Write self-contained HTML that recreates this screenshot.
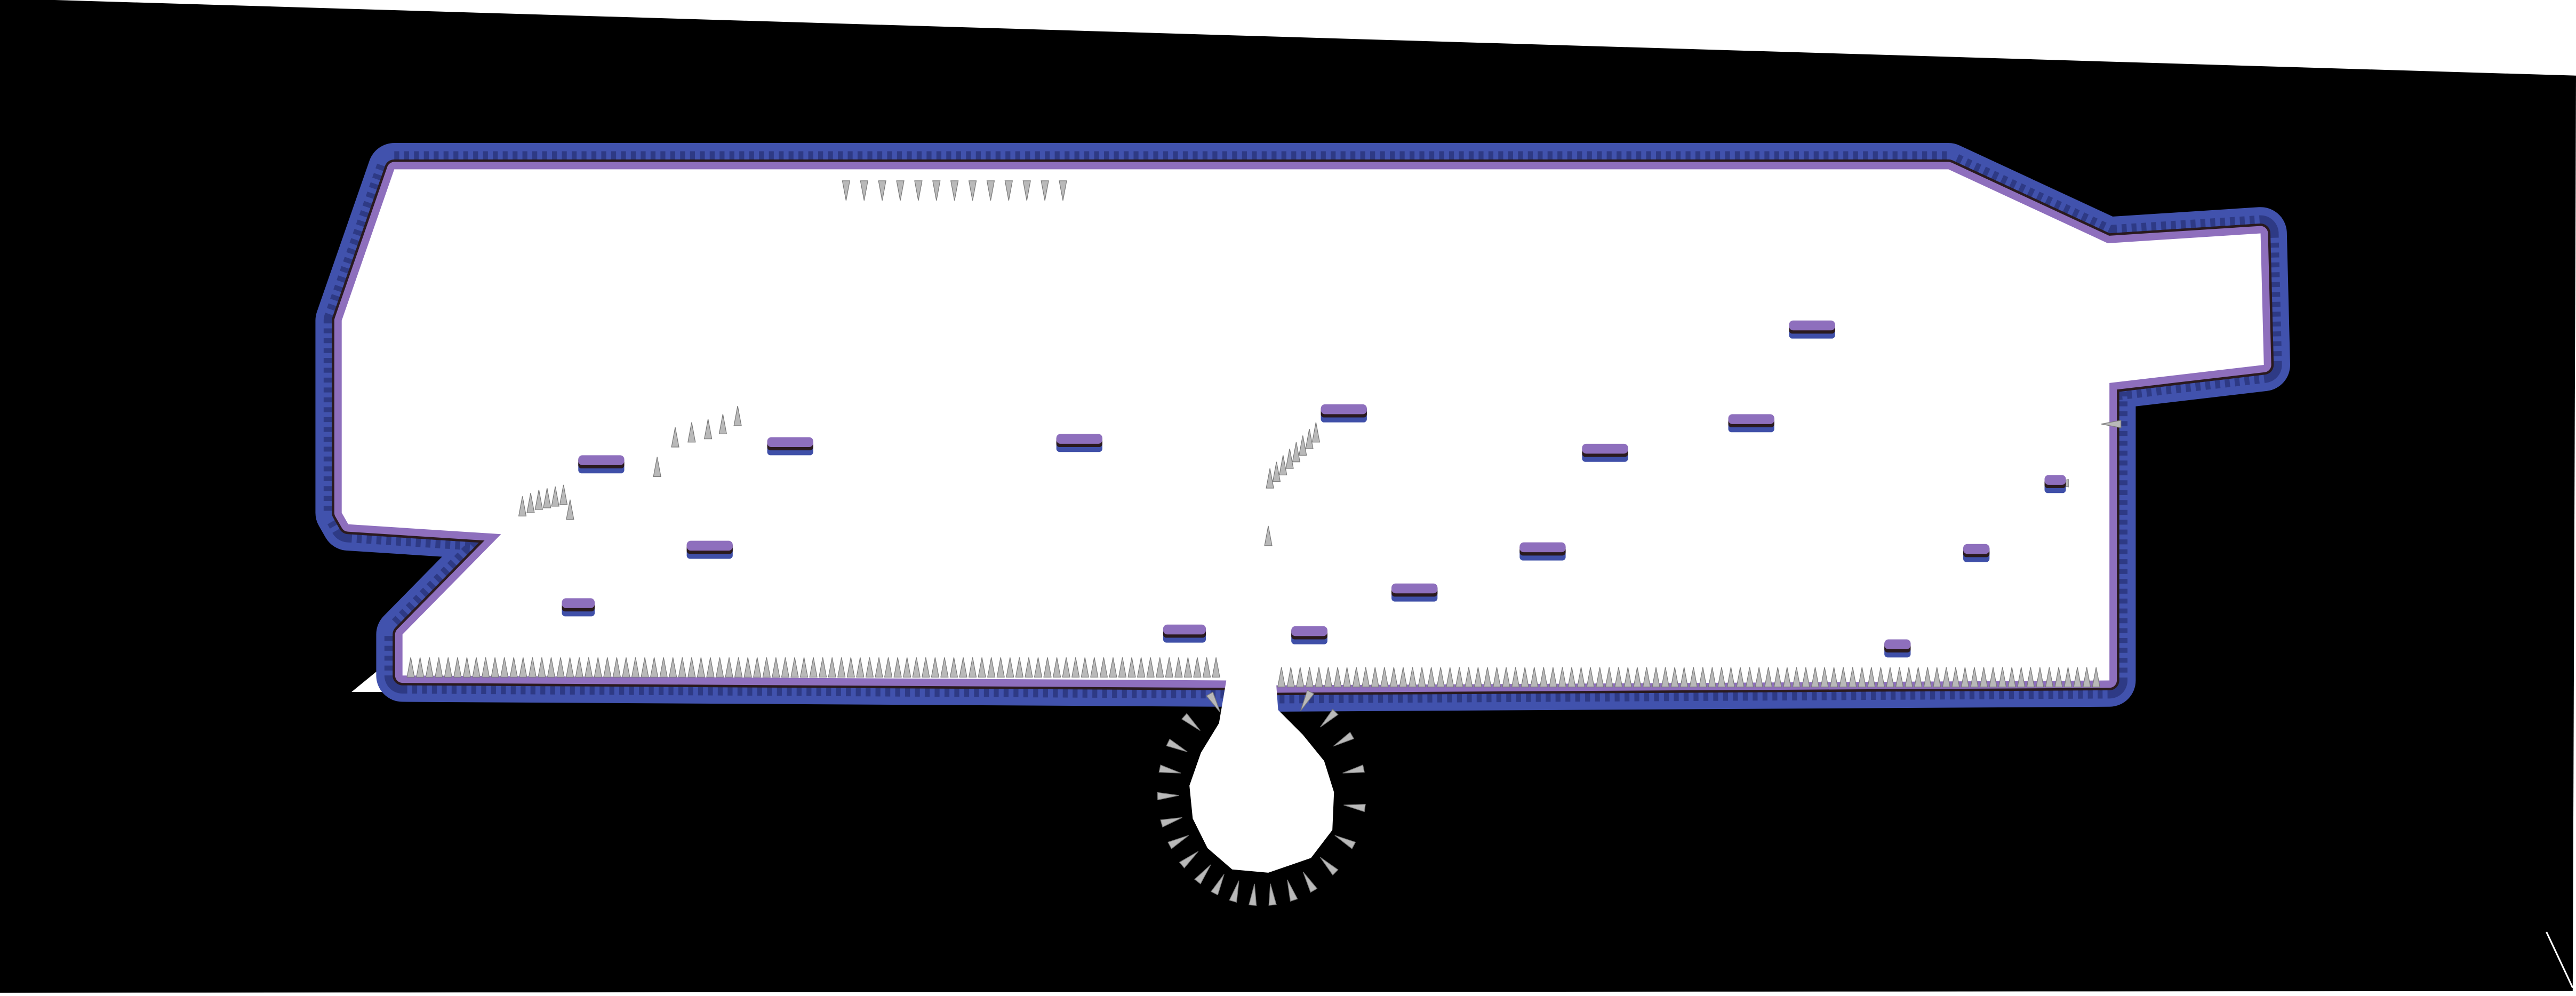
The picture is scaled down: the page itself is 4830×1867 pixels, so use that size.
<!DOCTYPE html>
<html><head><meta charset="utf-8"><style>
html,body{margin:0;padding:0;background:#fff;width:4830px;height:1867px;overflow:hidden;font-family:"Liberation Sans",sans-serif}
svg{display:block}
</style></head><body>
<svg id="map" width="4830" height="1867" viewBox="0 0 1568 606" preserveAspectRatio="none" xmlns="http://www.w3.org/2000/svg">
  <rect x="0" y="0" width="1568" height="606" fill="#fff"/>
  <polygon points="0,-1 1568,46 1566,603 0,604" fill="#000"/>
  <line x1="1550" y1="567" x2="1566" y2="601" stroke="#fff" stroke-width="1"/>
  <polygon points="214,421 236,403 240,421" fill="#fff"/>
  <g id="walls">
    <path d="M240,103 L1186,103 L1283,148 L1376,142 L1378,222 L1284,233 L1284,414 L775,417 L746,414 L245,411 L245,386 L305,325 L212,319 L208,312 L208,195 Z" fill="none" stroke="#4152ad" stroke-width="32" stroke-linejoin="round"/>
    <path d="M240,103 L1186,103 L1283,148 L1376,142 L1378,222 L1284,233 L1284,414 L775,417 L746,414 L245,411 L245,386 L305,325 L212,319 L208,312 L208,195 Z" fill="none" stroke="#2e3a85" stroke-width="22" stroke-dasharray="3 3" stroke-linejoin="round"/>
    <path d="M240,103 L1186,103 L1283,148 L1376,142 L1378,222 L1284,233 L1284,414 L775,417 L746,414 L245,411 L245,386 L305,325 L212,319 L208,312 L208,195 Z" fill="none" stroke="#2a1a1e" stroke-width="12" stroke-linejoin="round"/>
    <path d="M240,103 L1186,103 L1283,148 L1376,142 L1378,222 L1284,233 L1284,414 L775,417 L746,414 L245,411 L245,386 L305,325 L212,319 L208,312 L208,195 Z" fill="none" stroke="#8e6fbd" stroke-width="9" stroke-linejoin="round"/>
    <path d="M240,103 L1186,103 L1283,148 L1376,142 L1378,222 L1284,233 L1284,414 L775,417 L746,414 L245,411 L245,386 L305,325 L212,319 L208,312 L208,195 Z" fill="#fff"/>
  </g>
  <path d="M748,405 L776,405 L778,432 L793,447 L806,463 L812,482 L811,505 L798,522 L772,531 L750,529 L735,516 L726,498 L724,478 L731,458 L742,440 Z" fill="#fff"/>
  <g id="spikes"></g>
  <g id="platforms"></g>
</svg>
<script>
// Floating platform centres (x, y)
const platX = [366,481,657,818,1103,977,1066,432,939,861,352,721,797,1203,1155,1251];
const platY = [282,271,269,251,200,275,257,334,335,360,369,385,386,336,394,294];
const platW = [28,28,28,28,28,28,28,28,28,28,20,26,22,16,16,13];
// Spike rows: start x, end x, base y, direction (-1 = up, 1 = down)
const rowStart = [250,780,515];
const rowEnd   = [745,1280,657];
const rowBase  = [412,418,110];
const rowDir   = [-1,-1,1];
// Loose spikes: tip x, tip y, angle of pointing (deg)
const looseX = [318,323,328,333,338,343,347,400,411,421,431,440,449,773,777,781,785,789,793,797,801,772,1247,1279];
const looseY = [302,300,298,297,296,295,304,278,260,257,255,252,247,285,281,277,273,269,265,261,257,320,294,258];
const looseA = [-90,-90,-90,-90,-90,-90,-90,-90,-90,-90,-90,-90,-90,-90,-90,-90,-90,-90,-90,-90,-90,-90,180,180];
// Bulb spikes: angle around pit (deg)
const bulbAng = [-62,-45,-30,-12,8,28,45,60,72,84,95,106,117,128,140,152,164,178,192,206,222,240];

const NS = "http://www.w3.org/2000/svg";
const sg = document.getElementById('spikes');
function spike(tx, ty, ang, len, w) {
  const a = ang * Math.PI / 180;
  const bx = tx - Math.cos(a) * len, by = ty - Math.sin(a) * len;
  const px = -Math.sin(a) * w / 2, py = Math.cos(a) * w / 2;
  const p = document.createElementNS(NS, 'polygon');
  p.setAttribute('points', `${tx},${ty} ${bx+px},${by+py} ${bx-px},${by-py}`);
  p.setAttribute('fill', '#b9b9b9');
  p.setAttribute('stroke', '#7a7a7a');
  p.setAttribute('stroke-width', '0.4');
  
  
  sg.appendChild(p);
}
for (let r = 0; r < rowStart.length; r++) {
  const step = r === 2 ? 11 : 5.7;
  for (let x = rowStart[r]; x <= rowEnd[r]; x += step) {
    spike(x, rowBase[r] + rowDir[r] * 12, rowDir[r] === -1 ? -90 : 90, 12, 4.5);
  }
}
for (let i = 0; i < looseX.length; i++) spike(looseX[i], looseY[i], looseA[i], 12, 4.5);
const cx = 768, cy = 482, rx = 45, ry = 50;
for (let i = 0; i < bulbAng.length; i++) {
  const a = bulbAng[i] * Math.PI / 180;
  const tx = cx + Math.cos(a) * rx * 1.12, ty = cy + Math.sin(a) * ry * 1.12;
  spike(tx, ty, bulbAng[i] + 180, 13, 4.5);
}
const pg = document.getElementById('platforms');
for (let i = 0; i < platX.length; i++) {
  const w = platW[i], x = platX[i] - w / 2, y = platY[i] - 5;
  const g = document.createElementNS(NS, 'g');
  
  
  const b = document.createElementNS(NS, 'rect');
  b.setAttribute('x', x); b.setAttribute('y', y + 3); b.setAttribute('width', w); b.setAttribute('height', 8);
  b.setAttribute('rx', 2); b.setAttribute('fill', '#3f4fa8');
  const d = document.createElementNS(NS, 'rect');
  d.setAttribute('x', x); d.setAttribute('y', y + 1); d.setAttribute('width', w); d.setAttribute('height', 7);
  d.setAttribute('rx', 2); d.setAttribute('fill', '#2a1a1e');
  const t = document.createElementNS(NS, 'rect');
  t.setAttribute('x', x); t.setAttribute('y', y); t.setAttribute('width', w); t.setAttribute('height', 6);
  t.setAttribute('rx', 2.5); t.setAttribute('fill', '#8e6fbd');
  g.appendChild(b); g.appendChild(d); g.appendChild(t);
  pg.appendChild(g);
}
</script>
</body></html>
